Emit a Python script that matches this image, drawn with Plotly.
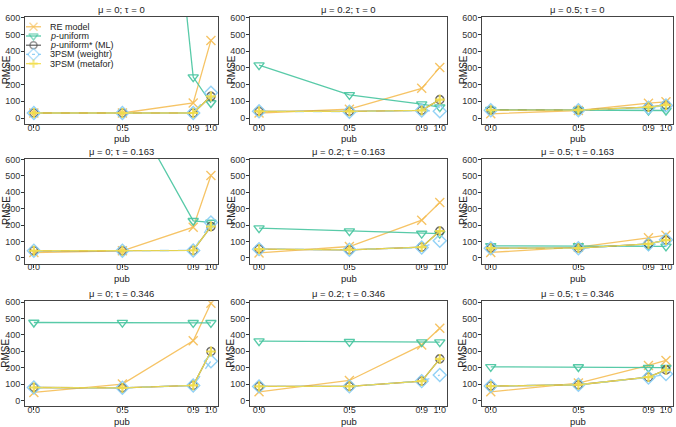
import plotly.graph_objects as go

# ---------------- data ----------------
pub = [0.0, 0.5, 0.9, 1.0]
pub_ticks = [0.0, 0.5, 0.9, 1.0]
pub_labels = ["0.0", "0.5", "0.9", "1.0"]
mu_labels = ["0", "0.2", "0.5"]
tau_labels = ["0", "0.163", "0.346"]
y_ticks = [0, 100, 200, 300, 400, 500, 600]

# panels ordered row (tau) by row, column (mu) within row
re_model = [
    [30, 30, 90, 465], [30, 53, 178, 303], [25, 45, 89, 97],
    [32, 43, 187, 502], [30, 69, 230, 338], [33, 65, 122, 138],
    [49, 100, 364, 594], [53, 122, 338, 441], [53, 106, 214, 244],
]
p_uniform = [
    [4500, 4300, 245, 90], [317, 139, 83, 65], [50, 48, 45, 45],
    [1200, 1000, 226, 216], [181, 163, 148, 148], [73, 73, 73, 70],
    [476, 475, 474, 474], [362, 358, 356, 356], [205, 204, 200, 200],
]
p_uniform_star = [
    [30, 30, 30, 130], [40, 40, 46, 110], [47, 47, 65, 77],
    [43, 43, 45, 191], [53, 49, 65, 163], [59, 59, 85, 108],
    [79, 77, 92, 299], [86, 86, 118, 254], [88, 96, 142, 187],
]
psm_weightr = [
    [30, 30, 30, 152], [40, 38, 45, 40], [47, 47, 62, 75],
    [43, 43, 45, 216], [53, 49, 63, 104], [59, 58, 82, 110],
    [79, 77, 92, 240], [86, 86, 118, 155], [88, 96, 140, 161],
]
psm_metafor = [
    [30, 30, 30, 130], [40, 40, 46, 110], [47, 47, 65, 77],
    [43, 43, 45, 191], [53, 49, 65, 163], [59, 59, 85, 108],
    [79, 77, 92, 299], [86, 86, 118, 254], [88, 96, 142, 187],
]

method_names = ["RE model", "<i>p</i>-uniform", "<i>p</i>-uniform* (ML)",
                "3PSM (weightr)", "3PSM (metafor)"]
method_data = [re_model, p_uniform, p_uniform_star, psm_weightr, psm_metafor]

# ---------------- styles ----------------
W, H = 676, 427
FONT = "Liberation Sans, Arial, sans-serif"
styles = [
    dict(color="rgba(245,190,85,0.9)", symbol="x-thin-open", size=9, dash="solid", mlw=1.4),
    dict(color="rgba(70,196,158,0.9)", symbol="triangle-down-open", size=9, dash="solid", mlw=1.4),
    dict(color="rgba(80,80,80,0.85)", symbol="circle-open", size=8, dash="solid", mlw=1.6),
    dict(color="rgba(135,205,245,0.9)", symbol="diamond-open", size=10, dash="dash", mlw=1.4),
    dict(color="rgba(242,222,75,0.9)", symbol="cross-thin-open", size=7, dash="solid", mlw=2.2),
]

col_px = [(25, 218), (250, 447), (482, 673)]
row_px = [(13, 121), (156, 262), (300, 406)]

fig = go.Figure()
layout = dict(
    width=W, height=H, margin=dict(l=0, r=0, t=0, b=0),
    paper_bgcolor="white", plot_bgcolor="rgba(0,0,0,0)", showlegend=False,
    font=dict(family=FONT, size=9, color="#333"),
)
annotations = []

for r in range(3):
    for c in range(3):
        k = r * 3 + c
        n = k + 1
        xa = "x" if n == 1 else f"x{n}"
        ya = "y" if n == 1 else f"y{n}"
        x0, x1 = col_px[c]
        y0, y1 = row_px[r]
        layout["xaxis" if n == 1 else f"xaxis{n}"] = dict(
            domain=[x0 / W, x1 / W], anchor=ya, range=[-0.05, 1.04],
            tickvals=pub_ticks, ticktext=pub_labels, ticks="outside", ticklen=3,
            tickcolor="#333", showline=True, mirror=True, linecolor="#444", linewidth=1,
            showgrid=False, zeroline=False, tickfont=dict(size=9, color="#333"),
            ticklabelstandoff=-8,
        )
        layout["yaxis" if n == 1 else f"yaxis{n}"] = dict(
            domain=[1 - y1 / H, 1 - y0 / H], anchor=xa, range=[-35, 606],
            tickvals=y_ticks, ticks="outside", ticklen=3, tickcolor="#333",
            showline=True, mirror=True, linecolor="#444", linewidth=1,
            showgrid=False, zeroline=False, tickfont=dict(size=9, color="#333"),
            ticklabelstandoff=-1,
        )
        for name, data, st in zip(method_names, method_data, styles):
            fig.add_trace(go.Scatter(
                x=pub, y=data[k], xaxis=xa, yaxis=ya, mode="lines+markers", name=name,
                line=dict(color=st["color"], width=1.3, dash=st["dash"]),
                marker=dict(symbol=st["symbol"], size=st["size"], color=st["color"],
                            line=dict(width=st["mlw"], color=st["color"])),
                showlegend=False, cliponaxis=True,
            ))
        # panel title
        annotations.append(dict(
            text=f"μ = {mu_labels[c]}; τ = {tau_labels[r]}", x=(x0 + x1) / 2 / W,
            y=1 - (y0 - 7.5) / H, xref="paper", yref="paper", showarrow=False,
            xanchor="center", yanchor="middle", font=dict(size=9.5, color="#222")))
        # x axis title
        annotations.append(dict(
            text="pub", x=(x0 + x1) / 2 / W, y=1 - (y1 + 15) / H, xref="paper", yref="paper",
            showarrow=False, xanchor="center", yanchor="middle", font=dict(size=9.5, color="#222")))
        # y axis title
        annotations.append(dict(
            text="RMSE", x=(x0 - 19) / W, y=1 - ((y0 + y1) / 2) / H, xref="paper", yref="paper",
            showarrow=False, xanchor="center", yanchor="middle", textangle=-90,
            font=dict(size=10, color="#222")))

# ---------------- manual legend (inside first panel) ----------------
layout["xaxis10"] = dict(domain=[0, 1], range=[0, W], visible=False, anchor="y10", fixedrange=True)
layout["yaxis10"] = dict(domain=[0, 1], range=[H, 0], visible=False, anchor="x10", fixedrange=True)
leg_x_left, leg_x_sym, leg_x_right, leg_x_text = 26, 33.5, 41, 48
leg_y0, leg_dy = 23, 9.3
for i, (name, st) in enumerate(zip(method_names, styles)):
    yy = leg_y0 + i * leg_dy
    fig.add_trace(go.Scatter(
        x=[leg_x_left, leg_x_sym, leg_x_right], y=[yy, yy, yy], xaxis="x10", yaxis="y10",
        mode="lines+markers",
        line=dict(color=st["color"], width=1.3, dash="dot" if st["dash"] == "dash" else "solid"),
        marker=dict(symbol=st["symbol"], size=[0, st["size"] - 1, 0], color=st["color"],
                    line=dict(width=st["mlw"], color=st["color"])),
        showlegend=False, hoverinfo="skip",
    ))
    annotations.append(dict(
        text=name, x=leg_x_text / W, y=1 - yy / H, xref="paper", yref="paper", showarrow=False,
        xanchor="left", yanchor="middle", font=dict(size=9, color="#222")))

layout["annotations"] = annotations
fig.update_layout(**layout)
fig.write_html("out.html")
